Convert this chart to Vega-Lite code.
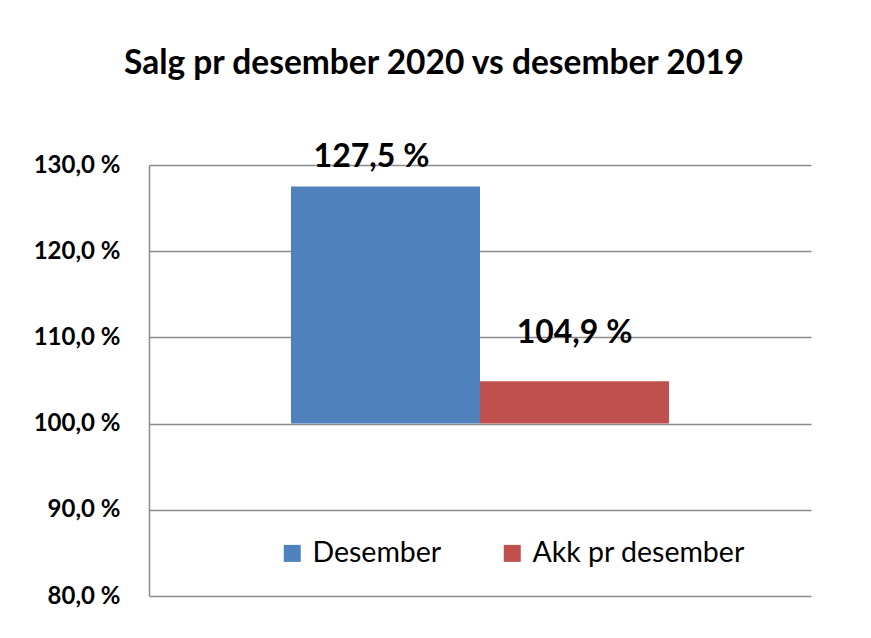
{
  "$schema": "https://vega.github.io/schema/vega-lite/v6.json",
  "autosize": "none",
  "width": 662,
  "height": 431,
  "padding": {"left": 149, "top": 165, "right": 60, "bottom": 42},
  "background": "white",
  "title": {
    "text": "Salg pr desember 2020 vs desember 2019",
    "font": "Lato",
    "fontSize": 33.5,
    "fontWeight": "bold",
    "color": "black",
    "anchor": "middle",
    "frame": "group",
    "dx": -46,
    "offset": 60
  },
  "data": {
    "values": [
      {"serie": "Desember", "verdi": 127.5, "label": "127,5 %"},
      {"serie": "Akk pr desember", "verdi": 104.9, "label": "104,9 %"}
    ]
  },
  "config": {
    "view": {"stroke": null},
    "font": "Lato"
  },
  "encoding": {
    "x": {
      "field": "serie",
      "type": "nominal",
      "sort": ["Desember", "Akk pr desember"],
      "axis": null,
      "scale": {"paddingInner": 0, "paddingOuter": 0.751}
    }
  },
  "layer": [
    {
      "mark": {"type": "bar"},
      "encoding": {
        "y": {
          "field": "verdi",
          "type": "quantitative",
          "scale": {"domain": [80, 130], "nice": false, "zero": false},
          "axis": {
            "values": [80, 90, 100, 110, 120, 130],
            "labelExpr": "replace(format(datum.value, '.1f'), '.', ',') + ' %'",
            "title": null,
            "labelFont": "Lato",
            "labelFontSize": 24,
            "labelFontWeight": "bold",
            "labelColor": "black",
            "labelPadding": 29,
            "ticks": false,
            "domainColor": "#8c8c8c",
            "domainWidth": 1.5,
            "gridColor": "#8c8c8c",
            "gridWidth": 1.5,
            "gridOpacity": 1
          }
        },
        "y2": {"datum": 100},
        "color": {
          "field": "serie",
          "type": "nominal",
          "scale": {"domain": ["Desember", "Akk pr desember"], "range": ["#4F81BD", "#C0504D"]},
          "legend": {
            "title": null,
            "orient": "none",
            "direction": "horizontal",
            "legendX": 129,
            "legendY": 374,
            "symbolType": "square",
            "symbolSize": 289,
            "symbolStrokeWidth": 0,
            "symbolOpacity": 1,
            "labelFont": "Lato",
            "labelFontSize": 28.5,
            "labelColor": "black",
            "labelOffset": 6,
            "columnPadding": 56,
            "labelLimit": 400
          }
        }
      }
    },
    {
      "transform": [{"filter": "datum.serie == 'Desember'"}],
      "mark": {"type": "text", "font": "Lato", "fontSize": 32, "fontWeight": "bold", "color": "black", "baseline": "alphabetic", "dx": -14, "dy": -19.5},
      "encoding": {
        "y": {"field": "verdi", "type": "quantitative"},
        "text": {"field": "label"}
      }
    },
    {
      "transform": [{"filter": "datum.serie == 'Akk pr desember'"}],
      "mark": {"type": "text", "font": "Lato", "fontSize": 32, "fontWeight": "bold", "color": "black", "baseline": "alphabetic", "dy": -38.5},
      "encoding": {
        "y": {"field": "verdi", "type": "quantitative"},
        "text": {"field": "label"}
      }
    }
  ]
}
